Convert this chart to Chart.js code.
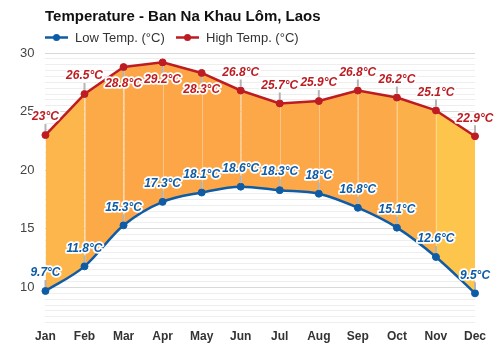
<!DOCTYPE html>
<html>
<head>
<meta charset="utf-8">
<script src="https://cdn.jsdelivr.net/npm/chart.js@4/dist/chart.umd.min.js"></script>
<style>html,body{margin:0;background:#fff;overflow:hidden}</style>
</head>
<body>
<canvas id="chart" width="500" height="350"></canvas>
<script>
// data
const MONTHS = ["Jan","Feb","Mar","Apr","May","Jun","Jul","Aug","Sep","Oct","Nov","Dec"];
const LOW_TEMP = [9.7, 11.8, 15.3, 17.3, 18.1, 18.6, 18.3, 18, 16.8, 15.1, 12.6, 9.5];
const HIGH_TEMP = [23, 26.5, 28.8, 29.2, 28.3, 26.8, 25.7, 25.9, 26.8, 26.2, 25.1, 22.9];
const TITLE = "Temperature - Ban Na Khau Lôm, Laos";
const LOW_LABEL = "Low Temp. (°C)";
const HIGH_LABEL = "High Temp. (°C)";

const BLUE = "#0f5ca6", RED = "#bd1c22";
const FONT = "Arial, 'Liberation Sans', sans-serif";
// fill colour of each month-to-month band
const SEG_COLORS = ["#fdb64b","#fcaa48","#fca647","#fca647","#fca647","#fca848","#fca848","#fca848","#fcaa49","#fcb04a","#fdc54c"];

// faint month dividers inside the filled band
const dividers = {
  id: "dividers",
  beforeDatasetDraw(c, args) {
    if (args.index !== 1) return;
    const hi = c.getDatasetMeta(1).data, lo = c.getDatasetMeta(0).data, ctx = c.ctx;
    ctx.save(); ctx.strokeStyle = "rgba(255,255,255,0.35)"; ctx.lineWidth = 1;
    for (let i = 1; i < hi.length - 1; i++) {
      ctx.beginPath(); ctx.moveTo(Math.round(hi[i].x)+0.5, hi[i].y); ctx.lineTo(Math.round(hi[i].x)+0.5, lo[i].y); ctx.stroke();
    }
    ctx.restore();
  }
};

// value labels with white halo and a grey stem to the point
const valueLabels = {
  id: "valueLabels",
  afterDatasetsDraw(c) {
    const ctx = c.ctx, top = c.chartArea.top;
    ctx.save();
    ctx.font = "italic bold 12px " + FONT; ctx.textAlign = "center"; ctx.textBaseline = "middle"; ctx.lineJoin = "round";
    c.data.datasets.forEach((ds, di) => {
      c.getDatasetMeta(di).data.forEach((p, i) => {
        const below = p.y - 25 < top;
        const ty = below ? p.y + 17 : p.y - 18;
        ctx.strokeStyle = "#b4b4b4"; ctx.lineWidth = 2;
        ctx.beginPath(); ctx.moveTo(p.x, below ? p.y + 4 : p.y - 4); ctx.lineTo(p.x, below ? p.y + 11 : p.y - 11); ctx.stroke();
        const t = ds.data[i] + "°C";
        ctx.strokeStyle = "#fff"; ctx.lineWidth = 3.5; ctx.strokeText(t, p.x, ty);
        ctx.fillStyle = ds.borderColor; ctx.fillText(t, p.x, ty);
      });
    });
    ctx.restore();
  }
};

// title and legend drawn left-aligned with the plot
const header = {
  id: "header",
  afterDraw(c) {
    const ctx = c.ctx;
    ctx.save();
    ctx.fillStyle = "#111"; ctx.font = "bold 15px " + FONT; ctx.textBaseline = "middle";
    ctx.fillText(TITLE, 45, 17);
    const item = (x, col, txt) => {
      ctx.strokeStyle = col; ctx.lineWidth = 2.5;
      ctx.beginPath(); ctx.moveTo(x, 37.5); ctx.lineTo(x + 23, 37.5); ctx.stroke();
      ctx.fillStyle = col; ctx.beginPath(); ctx.arc(x + 11.5, 37.5, 3.5, 0, Math.PI * 2); ctx.fill();
      ctx.fillStyle = "#333"; ctx.font = "13px " + FONT; ctx.fillText(txt, x + 30, 38);
    };
    item(45, BLUE, LOW_LABEL);
    item(176, RED, HIGH_LABEL);
    ctx.restore();
  }
};

new Chart(document.getElementById("chart"), {
  type: "line",
  data: {
    labels: MONTHS,
    datasets: [
      { label: LOW_LABEL, data: LOW_TEMP, borderColor: BLUE, backgroundColor: BLUE, borderWidth: 2.5,
        pointRadius: 3.5, pointBorderWidth: 1, pointBackgroundColor: BLUE, pointBorderColor: BLUE, cubicInterpolationMode: "monotone", fill: false },
      { label: HIGH_LABEL, data: HIGH_TEMP, borderColor: RED, backgroundColor: "#fca848", borderWidth: 2.5,
        pointRadius: 3.5, pointBorderWidth: 1, pointBackgroundColor: RED, pointBorderColor: RED, tension: 0, fill: 0,
        segment: { backgroundColor: s => SEG_COLORS[s.p0DataIndex] } }
    ]
  },
  options: {
    responsive: false, animation: false,
    layout: { padding: { top: 53, left: 9, right: 25, bottom: -1 } },
    plugins: { legend: { display: false }, tooltip: { enabled: false }, title: { display: false } },
    scales: {
      x: { offset: false, grid: { display: false, drawTicks: false }, border: { display: false },
        ticks: { color: "#333", font: { family: FONT, size: 12, weight: "bold" }, padding: 7, maxRotation: 0 } },
      y: { min: 7, max: 30, border: { display: false },
        grid: { drawTicks: false, color: g => g.tick.value % 5 === 0 ? "#d9d9d9" : "#eeeeee" },
        ticks: { stepSize: 0.5, autoSkip: false, padding: 11, color: "#444", font: { family: FONT, size: 13 },
          callback: v => v % 5 === 0 ? v : "" } }
    }
  },
  plugins: [dividers, valueLabels, header]
});
</script>
</body>
</html>
